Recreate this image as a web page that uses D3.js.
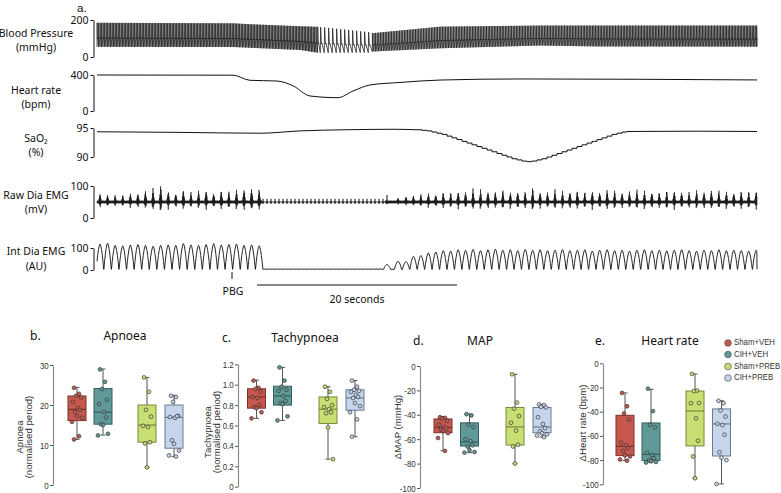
<!DOCTYPE html>
<html><head><meta charset="utf-8">
<script src="https://cdn.jsdelivr.net/npm/d3@7/dist/d3.min.js"></script>
<style>body{margin:0;background:#fff}svg{display:block}</style>
</head><body>
<svg id="c" width="781" height="493"></svg>
<script>
// ================= DATA =================
// Panel a: traces (time in seconds)
const traceLabels = [["Blood Pressure","(mmHg)"],["Heart rate","(bpm)"],["SaO\u2082","(%)"],["Raw Dia EMG","(mV)"],["Int Dia EMG","(AU)"]];
const traceTicks = [[0,200],[0,400],[90,95],[0,100],[0,100]];
// blood pressure envelope keypoints [t, mmHg]
const bpSystolic  = [[0,185],[13.6,182],[15.3,177],[20.3,166],[22.1,163],[27.2,134],[27.4,128],[34.3,164],[44.3,170],[66,170]];
const bpDiastolic = [[0,55],[13.6,54],[15.3,50],[20.3,38],[22.1,23],[27.2,24],[27.4,29],[34.3,47],[44.3,62],[50,57],[66,56]];
const bpBeatPeriod = [[0,0.15],[22.0,0.15],[22.1,0.4],[27.3,0.4],[27.4,0.16],[66,0.15]];
// heart rate [t, bpm]
const heartRate = [[0,400],[13.6,398],[15.3,341],[18,333],[19.6,280],[21.3,167],[24.1,148],[25.6,222],[27.3,289],[30.3,317],[34.3,344],[42.3,356],[66,345]];
// SaO2 [t, %]
const sao2Pre = [[0,94.35],[8,94.25],[16.3,94.1],[20.3,94.5],[25,94.7],[29.6,94.78],[32,94.7]];
const sao2Steps = [[32,94.7],[32.5,94.6],[33,94.5],[33.5,94.3],[34,94.1],[34.5,93.9],[35,93.6],[35.5,93.3],[36,93.0],[36.5,92.7],[37,92.4],[37.5,92.1],[38,91.8],[38.5,91.5],[39,91.2],[39.5,90.9],[40,90.6],[40.5,90.3],[41,90.0],[41.5,89.7],[42,89.5],[42.5,89.3],[43,89.2],[43.5,89.3],[44,89.5],[44.5,89.7],[45,90.0],[45.5,90.3],[46,90.6],[46.5,90.9],[47,91.2],[47.5,91.5],[48,91.8],[48.5,92.1],[49,92.4],[49.5,92.7],[50,93.0],[50.5,93.3],[51,93.6],[51.5,93.9],[52,94.1],[52.5,94.3],[53,94.4]];
const sao2Post = [[53,94.4],[60,94.45],[66,94.4]];
// breaths
const breathPreStart = 0.3, breathPrePeriod = 0.758;
const intPre = [118,122,112,110,114,116,112,108,112,114,112,120,114,112,116,120,114,116,118,112,114,110];
const rawPre = [30,26,24,24,30,32,38,46,55,38,32,42,32,36,42,32,40,36,40,46,48,44];
const breathPostFirst = [29.0,30.1], breathPostStart = 30.9, breathPostPeriod = 0.745;
const intPost = [25,40,38,62,66,78,82,88,86,92,90,94,88,92,95,90,92,88,94,90,92,88,90,93,88,90,92,86,90,92,88,90,86,90,92,88,90,87,90,92,88,86,90,88,92,88,90,88,86,90];
const rawPost = [22,15,20,22,26,30,28,34,32,38,36,44,40,38,36,40,34,38,36,48,36,34,40,36,38,40,34,38,36,42,38,34,36,40,38,36,34,38,40,36,34,38,36,40,38,36,34,38,36,40];
const apnoeaCardiac = {start:16.6, end:28.7, period:0.4, rawAmp:10, intAmp:5};
const pbgTime = 13.5;
const scaleBar = [16,36];

// Bottom panels
const groups = ["Sham+VEH","CIH+VEH","Sham+PREB","CIH+PREB"];
const groupFill = ["#c8574d","#5f9a98","#c7df73","#c6d5eb"];
const groupStroke = ["#7a322d","#335f5e","#7a8a3c","#6a7a90"];
// boxes: [min, q1, median, q3, max]
const apnoeaBoxes = [[11.4,16.1,18.9,22.25,24.4],[12.5,15.2,18.2,24.1,29.0],[4.4,10.7,15.0,20.0,26.9],[7.1,9.2,16.9,20.0,22.4]];
const apnoeaPoints = [
 [24.3,22.8,22.3,21.9,20.8,19.3,18.8,18.2,17.2,16.8,15.8,12.2,11.4],
 [28.9,25.8,24.0,21.3,20.2,18.3,16.9,15.2,15.0,12.8,12.4],
 [26.9,23.3,18.8,17.1,14.8,14.5,10.7,10.4,4.4],
 [22.3,22.0,20.8,17.3,17.0,16.8,17.2,11.2,10.3,8.6,7.4,7.1]];
const tachyBoxes = [[0.67,0.77,0.88,0.96,1.045],[0.65,0.80,0.89,0.985,1.17],[0.27,0.62,0.76,0.88,0.98],[0.49,0.75,0.87,0.95,1.04]];
const tachyPoints = [
 [1.04,0.97,0.96,0.93,0.88,0.87,0.80,0.78,0.77,0.73,0.67],
 [1.17,1.04,0.98,0.95,0.94,0.89,0.84,0.82,0.81,0.69,0.65],
 [0.98,0.93,0.86,0.80,0.78,0.76,0.73,0.72,0.58,0.27],
 [1.04,0.98,0.95,0.94,0.93,0.90,0.88,0.87,0.82,0.79,0.73,0.66,0.49]];
const mapBoxes = [[-69.6,-54.7,-50.4,-43.4,-41.5],[-71,-65.6,-62.3,-46.6,-39.3],[-80,-64.8,-49.9,-34,-6.8],[-58.3,-54.7,-50,-34,-31.7]];
const mapPoints = [
 [-42,-42.5,-43,-45,-48,-50,-51,-52,-53,-55,-59,-69.6],
 [-39.5,-40.5,-48,-50,-60,-61.5,-65,-66,-69,-70.5,-71],
 [-6.8,-30,-35,-41,-46.5,-53,-64.5,-66,-80],
 [-31.5,-32,-33.5,-34,-42,-47.5,-51,-53.5,-55,-56,-57,-58.3]];
const hrBoxes = [[-80.4,-76.3,-68.6,-43,-24.5],[-82,-80.4,-75.2,-49.3,-21.5],[-95,-68.3,-39.4,-22.9,-8.8],[-99.7,-76.6,-50.1,-37.7,-31]];
const hrPoints = [
 [-24.5,-35.5,-41.5,-46.5,-65.5,-67.5,-70,-72.5,-76,-77,-79.5,-80.5],
 [-21,-39.5,-51,-53,-74,-76,-78.5,-80,-81,-81.5,-82],
 [-8.8,-22.5,-23,-32.8,-33,-45.5,-64,-77,-95],
 [-31,-33,-39,-44,-50,-51,-59,-73.5,-78,-80,-99.7]];
const tickApnoea = [0,10,20,30], tickTachy = [0,0.2,0.4,0.6,0.8,1.0,1.2], tickDelta = [0,-20,-40,-60,-80,-100];

// ================= DRAW =================
const svg = d3.select("#c");
const fA = "'Noto Sans','Open Sans',sans-serif";
const fS = "'Liberation Sans',Arial,sans-serif";
const NARROW = 0.84;

svg.append("text").attr("x",77).attr("y",11.5).attr("font-family",fS).attr("font-size",11.5).attr("fill","#111").text("a.");

const x = d3.scaleLinear().domain([0,66]).range([97,757]);
const yScales = [
  d3.scaleLinear().domain([0,200]).range([57,20]),
  d3.scaleLinear().domain([0,400]).range([111,75]),
  d3.scaleLinear().domain([90,95]).range([157,128]),
  d3.scaleLinear().domain([0,100]).range([218,186]),
  d3.scaleLinear().domain([0,100]).range([270,248])
];
const labelY = [[34,48],[91,105],[139,153],[196,210],[252,267]];
yScales.forEach((ys,i)=>{
  const ax = svg.append("g").attr("transform","translate(93.5,0)")
    .call(d3.axisLeft(ys).tickValues(traceTicks[i]).tickSize(3).tickSizeOuter(0).tickFormat(d3.format("d")));
  ax.select(".domain").attr("stroke","#111");
  ax.selectAll(".tick line").attr("stroke","#111");
  ax.selectAll(".tick text").attr("font-family",fA).attr("font-size",10.5).attr("fill","#111").attr("x",-5);
  traceLabels[i].forEach((s,k)=>{
    svg.append("text").attr("x",36).attr("y",labelY[i][k]).attr("text-anchor","middle")
      .attr("dominant-baseline","middle").attr("font-family",fA).attr("font-size",10.5).attr("fill","#111").text(s);
  });
});
const lin = (arr)=>d3.scaleLinear().domain(arr.map(d=>d[0])).range(arr.map(d=>d[1]));
// BP
{
  const sysS = lin(bpSystolic), diaS = lin(bpDiastolic), perS = lin(bpBeatPeriod);
  const pts = [];
  for (let t=0; t<66;) {
    const p = perS(t), s = sysS(t), d = diaS(t);
    pts.push([t,d],[t+0.1*p,s],[t+0.3*p,d+0.34*(s-d)],[t+0.42*p,d+0.38*(s-d)]);
    t += p;
  }
  pts.push([66, diaS(66)]);
  svg.append("path").attr("d", d3.line().x(d=>x(Math.min(66,d[0]))).y(d=>yScales[0](d[1]))(pts))
    .attr("fill","none").attr("stroke","#222").attr("stroke-width",0.8);
}
// HR
svg.append("path").attr("d", d3.line().x(d=>x(d[0])).y(d=>yScales[1](d[1])).curve(d3.curveMonotoneX)(heartRate))
  .attr("fill","none").attr("stroke","#111").attr("stroke-width",1);
// SaO2
[[sao2Pre,d3.curveMonotoneX],[sao2Steps,d3.curveStepAfter],[sao2Post,d3.curveLinear]].forEach(([arr,c])=>{
  svg.append("path").attr("d", d3.line().x(d=>x(d[0])).y(d=>yScales[2](d[1])).curve(c)(arr))
    .attr("fill","none").attr("stroke","#111").attr("stroke-width",1);
});
// breath times
const preTimes = intPre.map((_,i)=>breathPreStart + i*breathPrePeriod);
const postTimes = intPost.map((_,i)=> i<2 ? breathPostFirst[i] : breathPostStart + (i-2)*breathPostPeriod);
// Raw EMG
{
  const bursts = [];
  preTimes.forEach((t,i)=>bursts.push([t,rawPre[i],0.2]));
  postTimes.forEach((t,i)=>bursts.push([t,rawPost[i], i===0?0.08:0.2]));
  for (let t=apnoeaCardiac.start; t<apnoeaCardiac.end; t+=apnoeaCardiac.period) bursts.push([t,apnoeaCardiac.rawAmp,0.07]);
  const pat = [1,0.55,0.9,0.35,0.8,0.65,1,0.45];
  const pts = []; let sgn = 1, k = 0;
  for (let t=0; t<=66; t+=0.025, k++) {
    const inApnoea = t>preTimes[preTimes.length-1]+0.3 && t<postTimes[0]-0.2;
    const base = inApnoea ? 0.8 : 4;
    let env = 0;
    for (const [tb,A,hw] of bursts) { const u = Math.abs(t-tb)/hw; if (u<1) env = Math.max(env, A*Math.pow(1-u,1.6)); }
    const v = Math.max(base*(k%3===0?0.6:1), env*(inApnoea?1:pat[k%8]));
    pts.push([t, 50 + sgn*v]); sgn = -sgn;
  }
  svg.append("path").attr("d", d3.line().x(d=>x(d[0])).y(d=>yScales[3](d[1]))(pts))
    .attr("fill","none").attr("stroke","#111").attr("stroke-width",0.6);
}
// Int EMG
{
  const shape = d3.range(-1,1.0001,0.2).map(u=>[u, 1-Math.pow(Math.abs(u),1.7)]);
  const pts = [];
  const base = 3;
  preTimes.forEach((tb,i)=>shape.forEach(([u,f])=>pts.push([tb+u*0.37, base+f*(intPre[i]-base)])));
  for (let t=apnoeaCardiac.start; t<apnoeaCardiac.end; t+=apnoeaCardiac.period) {
    pts.push([t,base],[t+0.1,apnoeaCardiac.intAmp]);
  }
  postTimes.forEach((tb,i)=>shape.forEach(([u,f])=>pts.push([tb+u*0.36, base+f*(intPost[i]-base)])));
  pts.push([66,base]);
  pts.sort((a,b)=>a[0]-b[0]);
  const clean = pts.filter(d=>d[0]>=0 && d[0]<=66);
  svg.append("path").attr("d", d3.line().x(d=>x(d[0])).y(d=>yScales[4](d[1]))(clean))
    .attr("fill","none").attr("stroke","#111").attr("stroke-width",0.9);
}
// PBG marker + scale bar
svg.append("line").attr("x1",x(pbgTime)).attr("x2",x(pbgTime)).attr("y1",272).attr("y2",279).attr("stroke","#111");
svg.append("text").attr("x",x(pbgTime)+1).attr("y",292).attr("text-anchor","middle").attr("dominant-baseline","middle")
  .attr("font-family",fA).attr("font-size",10.5).attr("fill","#111").text("PBG");
svg.append("line").attr("x1",x(scaleBar[0])).attr("x2",x(scaleBar[1])).attr("y1",285).attr("y2",285).attr("stroke","#111");
svg.append("text").attr("x",(x(scaleBar[0])+x(scaleBar[1]))/2).attr("y",300).attr("text-anchor","middle").attr("dominant-baseline","middle")
  .attr("font-family",fA).attr("font-size",10.5).attr("fill","#111").text("20 seconds");

// ---- box panels ----
const panels = [
 {letter:"b.",lx:30,ly:337,title:"Apnoea",tx:125,axisX:53,range:[485,365],domain:[0,30],ticks:tickApnoea,fmt:d=>d,
  centers:[77,103,147,174],ylab:["Apnoea","(normalised period)"],ylx:[20,29],yly:437,boxes:apnoeaBoxes,points:apnoeaPoints},
 {letter:"c.",lx:222,ly:339,title:"Tachypnoea",tx:305,axisX:238,range:[486.7,364.3],domain:[0,1.2],ticks:tickTachy,fmt:d=>d===0?"0":d.toFixed(1),
  centers:[256.5,282.5,328,355],ylab:["Tachypnoea","(normalised period)"],ylx:[208,217],yly:432,boxes:tachyBoxes,points:tachyPoints},
 {letter:"d.",lx:413,ly:342,title:"MAP",tx:480,axisX:420,range:[488,366],domain:[-100,0],ticks:tickDelta,fmt:d=>d,
  centers:[443,469.5,515,542],ylab:["\u0394MAP (mmHg)"],ylx:[398],yly:427,boxes:mapBoxes,points:mapPoints},
 {letter:"e.",lx:595,ly:342,title:"Heart rate",tx:670,axisX:603,range:[484.3,363.3],domain:[-100,0],ticks:tickDelta,fmt:d=>d,
  centers:[625,651,695,721.5],ylab:["\u0394Heart rate (bpm)"],ylx:[583],yly:423,boxes:hrBoxes,points:hrPoints}
];
const jitter = [-3,2,-1,4,-4,1,3,-2,0,5,-5,2,-3,1];
panels.forEach(p=>{
  const y = d3.scaleLinear().domain(p.domain).range(p.range);
  svg.append("text").attr("x",p.lx).attr("y",p.ly).attr("dominant-baseline","middle").attr("font-family",fA).attr("font-size",12).attr("fill","#111").text(p.letter);
  svg.append("text").attr("x",p.tx).attr("y",p.ly).attr("text-anchor","middle").attr("dominant-baseline","middle").attr("font-family",fA).attr("font-size",12).attr("fill","#111").text(p.title);
  const ax = svg.append("g").attr("transform",`translate(${p.axisX},0)`)
    .call(d3.axisLeft(y).tickValues(p.ticks).tickSize(3).tickSizeOuter(0).tickFormat(p.fmt));
  ax.select(".domain").attr("stroke","#8a8a8a").attr("stroke-width",1.2);
  ax.selectAll(".tick line").attr("stroke","#555");
  ax.selectAll(".tick text").attr("font-family",fS).attr("font-size",9.5).attr("fill","#333").attr("x",-5)
    .attr("transform",`scale(${NARROW},1)`);
  p.ylab.forEach((s,k)=>{
    svg.append("text").attr("transform",`translate(${p.ylx[k]},${p.yly}) rotate(-90)`).attr("text-anchor","middle")
      .attr("dominant-baseline","middle").attr("font-family",fS).attr("font-size",9.6).attr("fill","#333").text(s);
  });
  p.boxes.forEach((b,i)=>{
    const cx = p.centers[i], w = 18;
    const g = svg.append("g");
    g.append("line").attr("x1",cx).attr("x2",cx).attr("y1",y(b[0])).attr("y2",y(b[4])).attr("stroke","#555").attr("stroke-width",1);
    [b[0],b[4]].forEach(v=>g.append("line").attr("x1",cx-2.5).attr("x2",cx+2.5).attr("y1",y(v)).attr("y2",y(v)).attr("stroke","#555"));
    g.append("rect").attr("x",cx-w/2).attr("y",y(b[3])).attr("width",w).attr("height",y(b[1])-y(b[3]))
      .attr("fill",groupFill[i]).attr("stroke",groupStroke[i]).attr("stroke-width",1);
    g.append("line").attr("x1",cx-w/2).attr("x2",cx+w/2).attr("y1",y(b[2])).attr("y2",y(b[2])).attr("stroke",groupStroke[i]).attr("stroke-width",1.2);
    p.points[i].forEach((v,j)=>{
      g.append("circle").attr("cx",cx+jitter[j%jitter.length]).attr("cy",y(v)).attr("r",1.9)
        .attr("fill",groupFill[i]).attr("stroke","#3a3a3a").attr("stroke-width",0.7);
    });
  });
});
// legend
const legY = [343,354.5,366.5,378];
groups.forEach((gname,i)=>{
  svg.append("circle").attr("cx",728).attr("cy",legY[i]).attr("r",3.3).attr("fill",groupFill[i]).attr("stroke","#555").attr("stroke-width",0.7);
  svg.append("text").attr("transform",`translate(734,${legY[i]}) scale(${NARROW},1)`).attr("dominant-baseline","middle")
    .attr("font-family",fS).attr("font-size",9.3).attr("fill","#333").text(gname);
});
</script>
</body></html>
